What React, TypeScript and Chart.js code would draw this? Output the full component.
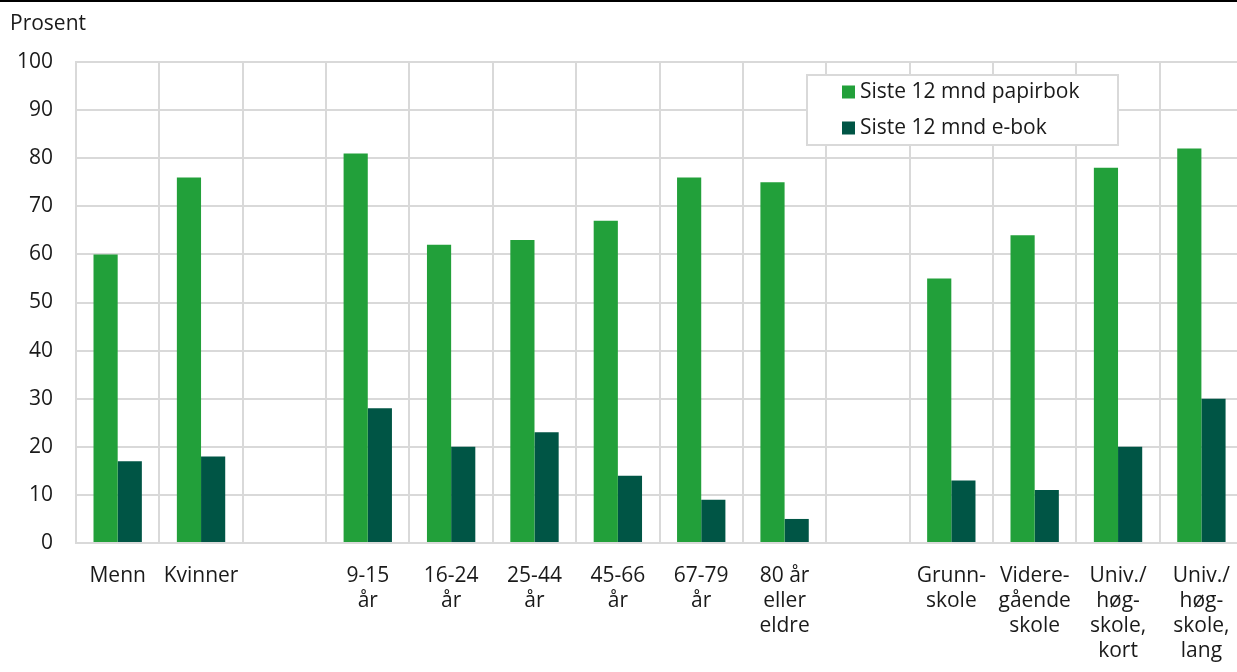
import React, { useEffect, useRef } from "react";
import { Chart, registerables } from "chart.js";

Chart.register(...registerables);

const categories: (string | string[])[] = [
  "Menn",
  "Kvinner",
  "",
  ["9-15", "år"],
  ["16-24", "år"],
  ["25-44", "år"],
  ["45-66", "år"],
  ["67-79", "år"],
  ["80 år", "eller", "eldre"],
  " ",
  ["Grunn-", "skole"],
  ["Videre-", "gående", "skole"],
  ["Univ./", "høg-", "skole,", "kort"],
  ["Univ./", "høg-", "skole,", "lang"],
];

const papirbok: (number | null)[] = [60, 76, null, 81, 62, 63, 67, 76, 75, null, 55, 64, 78, 82];
const ebok: (number | null)[] = [17, 18, null, 28, 20, 23, 14, 9, 5, null, 13, 11, 20, 30];

const seriesNames = ["Siste 12 mnd papirbok", "Siste 12 mnd e-bok"];
const seriesColors = ["#22a03a", "#005545"];
const yTitle = "Prosent";

const FONT = "'Open Sans', 'DejaVu Sans', sans-serif";
const FS = 21;
const TEXT = "#1a1a1a";
const GRID = "#d9d9d9";
const W = 1251;

const overlayPlugin = {
  id: "overlay",
  afterDraw(chart: any) {
    const ctx = chart.ctx as CanvasRenderingContext2D;
    ctx.save();
    ctx.font = `${FS}px ${FONT}`;
    ctx.fillStyle = TEXT;
    ctx.textBaseline = "middle";
    ctx.textAlign = "left";
    ctx.fillText(yTitle, 10, 24);

    // legend box
    const bx = 807, by = 75, bw = 311, bh = 70;
    ctx.fillStyle = "#ffffff";
    ctx.fillRect(bx, by, bw, bh);
    ctx.strokeStyle = GRID;
    ctx.lineWidth = 2;
    ctx.strokeRect(bx, by, bw, bh);
    chart.data.datasets.forEach((ds: any, i: number) => {
      const cy = 92 + i * 36;
      ctx.fillStyle = ds.backgroundColor;
      ctx.fillRect(842, cy - 6.5, 13, 13);
      ctx.fillStyle = TEXT;
      ctx.fillText(ds.label, 860, cy);
    });
    ctx.restore();
  },
};

export default function App() {
  const ref = useRef<HTMLCanvasElement | null>(null);
  useEffect(() => {
    if (!ref.current) return;
    const chart = new Chart(ref.current, {
      type: "bar",
      data: {
        labels: categories as any,
        datasets: [
          { label: seriesNames[0], data: papirbok, backgroundColor: seriesColors[0] },
          { label: seriesNames[1], data: ebok, backgroundColor: seriesColors[1] },
        ],
      },
      options: {
        responsive: false,
        animation: false,
        devicePixelRatio: 1,
        layout: { padding: { top: 62, left: 0, right: 0, bottom: 0 } },
        plugins: { legend: { display: false }, tooltip: { enabled: false }, title: { display: false } },
        datasets: { bar: { categoryPercentage: 0.58, barPercentage: 1 } },
        scales: {
          x: {
            grid: { color: GRID, lineWidth: 2, drawTicks: false, offset: true },
            border: { color: GRID, width: 2 },
            ticks: {
              autoSkip: false,
              maxRotation: 0,
              minRotation: 0,
              padding: 21,
              color: TEXT,
              font: { family: FONT, size: FS, lineHeight: "25px" as any },
            },
            afterFit: (s: any) => { s.height = 129; },
          },
          y: {
            min: 0,
            max: 100,
            ticks: { stepSize: 10, padding: 23, color: TEXT, font: { family: FONT, size: FS } },
            grid: { color: GRID, lineWidth: 2, drawTicks: false },
            border: { color: GRID, width: 2 },
            afterFit: (s: any) => { s.width = 76; },
          },
        },
      },
      plugins: [overlayPlugin],
    });
    return () => chart.destroy();
  }, []);
  return (
    <div style={{ position: "fixed", left: 0, top: 0, width: W, height: 672, background: "#fff" }}>
      <canvas ref={ref} width={W} height={672} style={{ display: "block" }} />
      <div style={{ position: "absolute", left: 0, top: 0, width: W, height: 2, background: "#000" }} />
    </div>
  );
}
